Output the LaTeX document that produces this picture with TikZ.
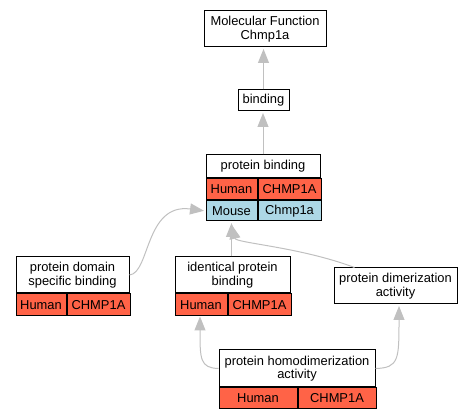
\documentclass[tikz,border=0pt]{standalone}
\usepackage{fontspec}
\setmainfont{Liberation Sans}
\usetikzlibrary{arrows.meta}
\definecolor{tomatored}{HTML}{FF6347}
\definecolor{mouseblue}{HTML}{ADD8E6}
\definecolor{edgegray}{HTML}{C0C0C0}
\begin{document}
\begin{tikzpicture}[x=1pt,y=1pt]

			\tikzstyle{term}=[fill=white,draw=black,line width=1pt,
				inner sep=0pt,align=center,
				font=\fontsize{12.9}{13.6}\selectfont]
			\tikzstyle{human}=[term,fill=tomatored,anchor=north west]
			\tikzstyle{mouse}=[term,fill=mouseblue,anchor=north west]
			\tikzstyle{isa}=[draw=edgegray,line width=1pt,shorten >=1.5pt,
				-{Triangle[length=14pt,width=11pt]}]

			\useasboundingbox (0,0) rectangle (473,419);

			% terms
			\node[term,minimum width=122pt,minimum height=36pt] (mf) at (265,390) {Molecular Function\\Chmp1a};
			\node[term,minimum width=51pt,minimum height=21pt] (bind) at (263.5,318.5) {binding};

			\node[term,minimum width=114pt,minimum height=23pt] (pb) at (263,252.5) {protein binding};
			\node[human,minimum width=51pt,minimum height=21pt] (pbh1) at (pb.south west) {Human};
			\node[human,minimum width=63pt,minimum height=21pt] (pbh2) at (pbh1.north east) {CHMP1A};
			\node[mouse,minimum width=51pt,minimum height=20pt] (pbm1) at (pbh1.south west) {Mouse};
			\node[mouse,minimum width=63pt,minimum height=20pt] (pbm2) at (pbm1.north east) {Chmp1a};

			\node[term,minimum width=113pt,minimum height=36pt] (pdsb) at (72.5,144) {protein domain\\specific binding};
			\node[human,minimum width=50pt,minimum height=22pt] (pdsbh1) at (pdsb.south west) {Human};
			\node[human,minimum width=63pt,minimum height=22pt] (pdsbh2) at (pdsbh1.north east) {CHMP1A};

			\node[term,minimum width=115pt,minimum height=36pt] (ipb) at (232.5,144) {identical protein\\binding};
			\node[human,minimum width=52pt,minimum height=22pt] (ipbh1) at (ipb.south west) {Human};
			\node[human,minimum width=63pt,minimum height=22pt] (ipbh2) at (ipbh1.north east) {CHMP1A};

			\node[term,minimum width=123pt,minimum height=36pt] (pda) at (395.5,133) {protein dimerization\\activity};

			\node[term,minimum width=156pt,minimum height=37pt] (phda) at (297,50.5) {protein homodimerization\\activity};
			\node[human,minimum width=78pt,minimum height=21pt] (phdah1) at (phda.south west) {Human};
			\node[human,minimum width=78pt,minimum height=21pt] (phdah2) at (phdah1.north east) {CHMP1A};

			% is_a edges
			\draw[isa] (bind.north) -- (bind.north |- mf.south);
			\draw[isa] (pb.north) -- (pb.north |- bind.south);
			\draw[isa] (pdsb.east) .. controls (150,146) and (145,216) .. (pbm1.west);
			\draw[isa] (ipb.north -| pbm1.south) -- (pbm1.south);
			\draw[isa] ([xshift=-41pt]pda.north) .. controls (300,172) and (236,176) .. ([yshift=-2pt]pbm1.south);
			\draw[isa] (phda.west) .. controls (200,51) and (200,60) .. (200,104);
			\draw[isa] (phda.east) .. controls (399,51) and (399,60) .. (pda.south -| 399,0);

		\end{tikzpicture}
\end{document}
